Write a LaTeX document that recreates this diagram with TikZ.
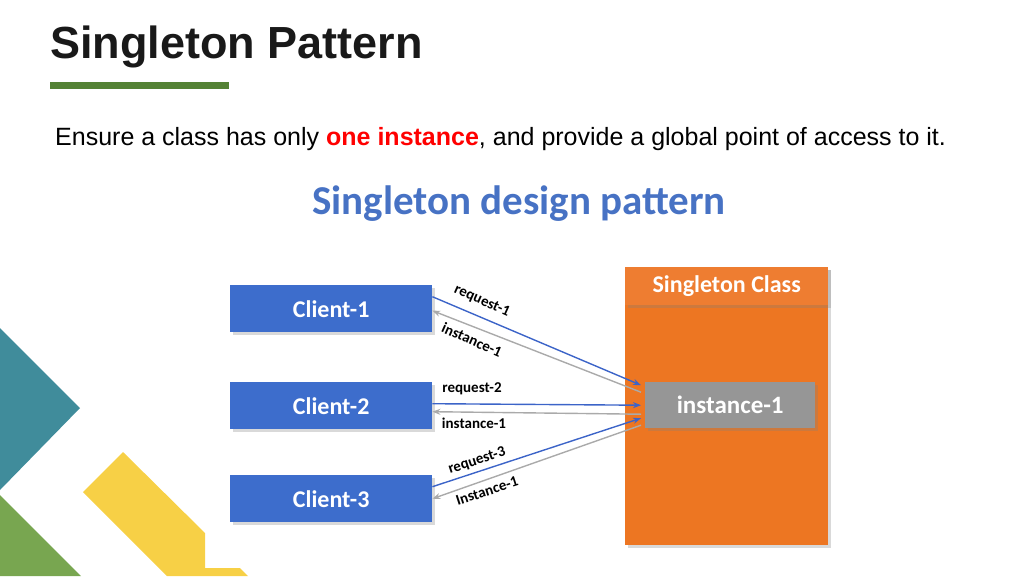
\documentclass[tikz,border=0pt]{standalone}
\usepackage{fontspec}
\setmainfont{Liberation Sans}
\newfontfamily\calib{Carlito}
\usetikzlibrary{arrows.meta, shadows}
\definecolor{titlegreen}{RGB}{84,130,53}
\definecolor{clientblue}{RGB}{61,109,204}
\definecolor{headblue}{RGB}{71,114,196}
\definecolor{classorange}{RGB}{237,118,34}
\definecolor{headorange}{RGB}{238,125,49}
\definecolor{instgray}{RGB}{150,150,150}
\definecolor{reqblue}{RGB}{60,100,200}
\definecolor{backgray}{RGB}{170,170,170}
\definecolor{tealish}{RGB}{64,140,155}
\definecolor{leafgreen}{RGB}{120,166,80}
\definecolor{sunyellow}{RGB}{247,208,70}
\begin{document}
\begin{tikzpicture}[x=1pt, y=-1pt,
                client box/.style={draw=none, fill=clientblue, minimum width=202pt, minimum height=47pt,
                        text=white, font=\calib\bfseries\fontsize{24}{28}\selectfont, drop shadow={opacity=0.3}},
                request arrow/.style={draw=reqblue, line width=1.4pt, -{Stealth[length=8pt]}},
                answer arrow/.style={draw=backgray, line width=1.4pt, -{Stealth[length=8pt]}},
                arrow label/.style={font=\calib\bfseries\fontsize{15}{17}\selectfont}]
            \useasboundingbox (0,0) rectangle (1024,576);
            % corner decoration
            \fill[tealish] (0,328) -- (80,408) -- (0,490) -- cycle;
            \fill[leafgreen] (0,495) -- (81,576) -- (0,576) -- cycle;
            \fill[sunyellow] (83,492) -- (123,452) -- (205,533) -- (205,568) -- (240,568) -- (248,576) -- (167,576) -- cycle;
            % heading
            \node[anchor=west, font=\bfseries\fontsize{45}{50}\selectfont, text=black!90, inner sep=0pt] (title) at (50,47) {Singleton Pattern};
            \fill[titlegreen] (50,82) rectangle (229,89);
            \node[anchor=west, font=\fontsize{25}{30}\selectfont, inner sep=0pt] (intent) at (55,139)
                {Ensure a class has only \textcolor{red}{\bfseries one instance}, and provide a global point of access to it.};
            \node[font=\calib\bfseries\fontsize{41}{48}\selectfont, text=headblue] (diagtitle) at (519,204) {Singleton design pattern};
            % singleton class
            \fill[classorange, drop shadow={opacity=0.3}] (625,267) rectangle (828,545);
            \node[fill=headorange, minimum width=203pt, minimum height=38pt, anchor=north west, text=white,
                  font=\calib\bfseries\fontsize{24}{28}\selectfont, drop shadow={opacity=0.3}] (classhead) at (625,267) {Singleton Class};
            \node[fill=instgray, minimum width=170pt, minimum height=46pt, anchor=north west, text=white,
                  font=\calib\bfseries\fontsize{25}{29}\selectfont, drop shadow={opacity=0.3}] (inst) at (645,382) {instance-1};
            % clients
            \node[client box, anchor=north west] (client1) at (230,285) {Client-1};
            \node[client box, anchor=north west] (client2) at (230,382) {Client-2};
            \node[client box, anchor=north west] (client3) at (230,475) {Client-3};
            % requests and answers
            \draw[request arrow] ([yshift=12pt] client1.east) -- ([xshift=-4pt, yshift=20pt] inst.west);
            \draw[answer arrow] ([xshift=-4pt, yshift=13pt] inst.west) -- ([yshift=-2pt] client1.east);
            \draw[request arrow] ([yshift=2pt] client2.east) -- ([xshift=-4pt] inst.west);
            \draw[answer arrow] ([xshift=-4pt, yshift=-9pt] inst.west) -- ([yshift=-6pt] client2.east);
            \draw[request arrow] ([yshift=12pt] client3.east) -- ([xshift=-4pt, yshift=-13pt] inst.west);
            \draw[answer arrow] ([xshift=-4pt, yshift=-20pt] inst.west) -- (client3.east);
            \node[arrow label, rotate=-24] (req1) at (482,301) {request-1};
            \node[arrow label, rotate=-24] (ans1) at (472,340) {instance-1};
            \node[arrow label] (req2) at (472,389) {request-2};
            \node[arrow label] (ans2) at (474,423) {instance-1};
            \node[arrow label, rotate=18] (req3) at (477,461) {request-3};
            \node[arrow label, rotate=18] (ans3) at (487,491) {Instance-1};
        \end{tikzpicture}
\end{document}
